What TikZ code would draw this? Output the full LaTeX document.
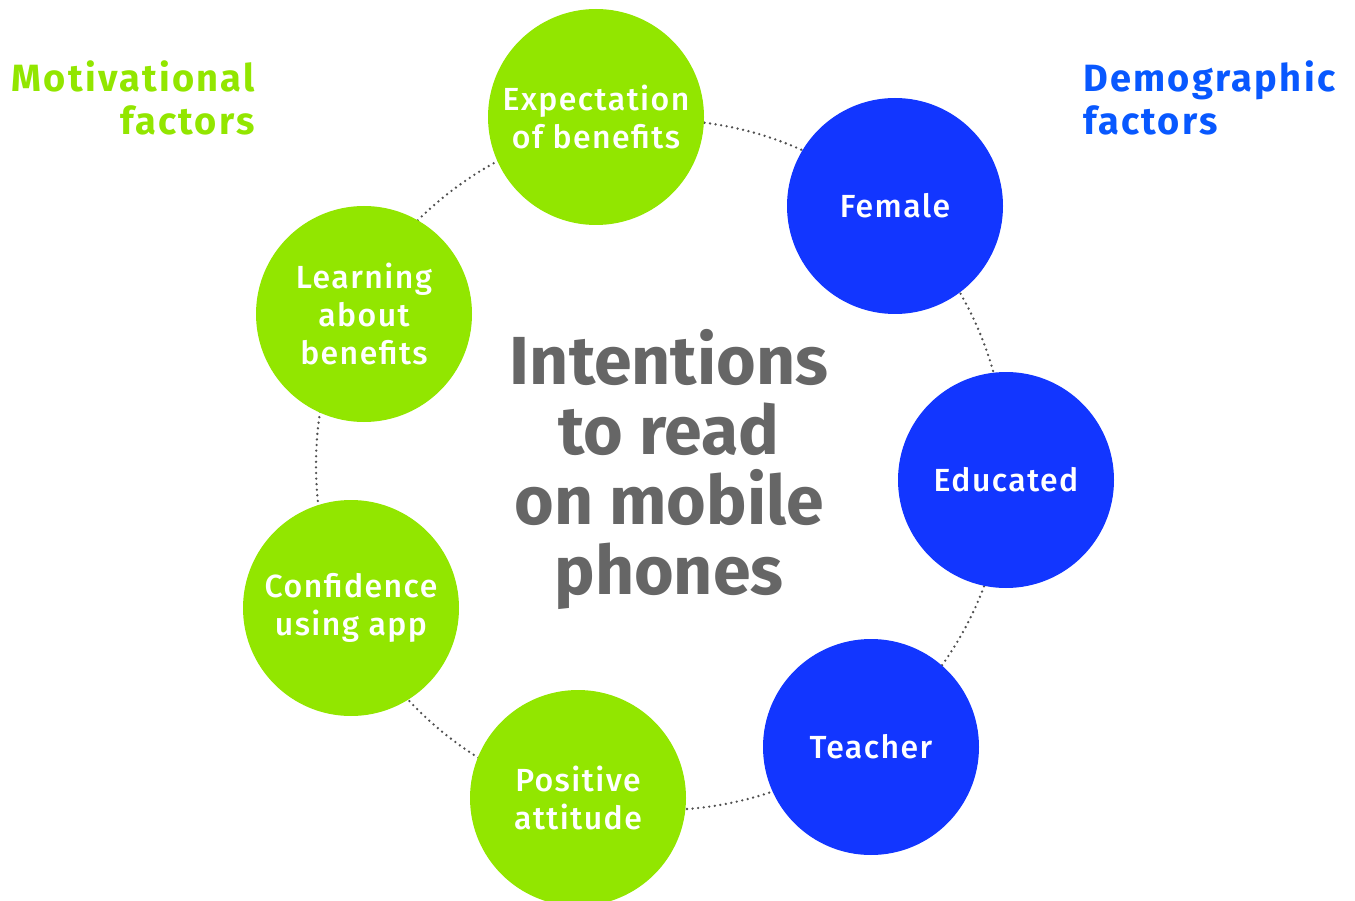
\documentclass[tikz,border=0pt]{standalone}
\usepackage{fontspec}
\setmainfont{Fira Sans}
\newfontfamily\firamed{Fira Sans Medium}
\usepackage{tikz}
\usetikzlibrary{positioning}

\definecolor{motgreen}{RGB}{146,230,0}
\definecolor{demblue}{RGB}{18,54,255}
\definecolor{demtext}{RGB}{8,88,255}
\definecolor{midgray}{RGB}{102,102,102}
\definecolor{dotgray}{RGB}{80,80,80}

\tikzset{
  factor/.style={circle, minimum size=216pt, inner sep=0pt, text=white, align=center,
    font=\firamed\addfontfeatures{LetterSpace=4.5}\fontsize{32}{38}\selectfont},
  motiv/.style={factor, fill=motgreen},
  demog/.style={factor, fill=demblue},
  ringline/.style={dotgray, line width=2.6pt, line cap=round, dash pattern=on 0pt off 5.6pt},
  heading/.style={inner sep=0pt, font=\bfseries\addfontfeatures{LetterSpace=6}\fontsize{38}{43}\selectfont}
}

\begin{document}
\begin{tikzpicture}[x=1pt,y=-1pt]
    \useasboundingbox (0,0) rectangle (1355,901);
    % dotted ring behind the factors
    \coordinate (hub) at (661,465);
    \draw[ringline] (hub) circle (345pt);

    \path (255,98) node[heading, anchor=east, align=right, text=motgreen] (motlabel) {Motivational\\factors};
    \path (1083,98) node[heading, anchor=west, align=left, text=demtext] (demlabel) {Demographic\\factors};

    \path (596,117) node[motiv] (expect) {Expectation\\of benefits};
    \path (364,314) node[motiv] (learn) {Learning\\about\\benefits};
    \path (351,608) node[motiv] (confid) {Confidence\\using app};
    \path (578,798) node[motiv] (posit) {Positive\\attitude};

    \path (895,206) node[demog] (female) {Female};
    \path (1006,480) node[demog] (educ) {Educated};
    \path (871,747) node[demog] (teach) {Teacher};

    \path (669,469) node[align=center, text=midgray, font=\bfseries\fontsize{68}{70}\selectfont] (intent) {Intentions\\to read\\on mobile\\phones};
\end{tikzpicture}
\end{document}
